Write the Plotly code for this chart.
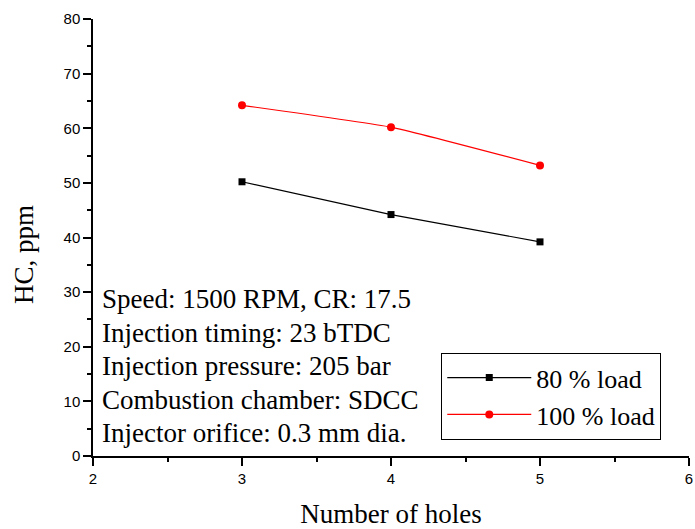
import plotly.graph_objects as go

holes = [3, 4, 5]
hc_80 = [50.2, 44.2, 39.2]
hc_100 = [64.2, 60.2, 53.2]
series_names = ["80 % load", "100 % load"]
note_lines = [
    "Speed: 1500 RPM, CR: 17.5",
    "Injection timing: 23 bTDC",
    "Injection pressure: 205 bar",
    "Combustion chamber: SDCC",
    "Injector orifice: 0.3 mm dia.",
]
x_title = "Number of holes"
y_title = "HC, ppm"

serif = "Liberation Serif, Times New Roman, serif"
sans = "Liberation Sans, Arial, sans-serif"

fig = go.Figure()
fig.add_trace(go.Scatter(
    x=holes, y=hc_80, name=series_names[0], mode="lines+markers",
    line=dict(color="black", width=1.2),
    marker=dict(symbol="square", size=7, color="black"),
))
fig.add_trace(go.Scatter(
    x=holes, y=hc_100, name=series_names[1], mode="lines+markers",
    line=dict(color="red", width=1.2, shape="spline", smoothing=0.35),
    marker=dict(symbol="circle", size=8, color="red"),
))

n = len(note_lines)
for i, line in enumerate(note_lines):
    fig.add_annotation(
        x=0.0, y=0.0, xref="paper", yref="paper", xanchor="left", yanchor="middle",
        xshift=7, yshift=23 + 33.5 * (n - 1 - i), align="left", showarrow=False,
        text=line,
        font=dict(family=serif, size=27, color="black"),
    )

# y-axis title (placed as annotation to match its off-centre position)
fig.add_annotation(
    x=0.0, y=0.46, xref="paper", yref="paper", xanchor="center", yanchor="middle",
    xshift=-69, textangle=-90, showarrow=False, text=y_title,
    font=dict(family=serif, size=27, color="black"),
)

axis_common = dict(
    showline=True, linecolor="black", linewidth=1.5, showgrid=False, zeroline=False,
    ticks="outside", ticklen=8, tickwidth=1.5, tickcolor="black",
    tickfont=dict(family=sans, size=15, color="black"),
    mirror=False, automargin=False,
)
fig.update_xaxes(
    range=[2, 6], dtick=1, tick0=2,
    minor=dict(ticks="outside", dtick=0.5, ticklen=4, tickwidth=1.5, tickcolor="black"),
    title=dict(text=x_title, font=dict(family=serif, size=27, color="black"), standoff=25),
    **axis_common,
)
fig.update_yaxes(
    range=[0, 80], dtick=10, tick0=0,
    minor=dict(ticks="outside", dtick=5, ticklen=4, tickwidth=1.5, tickcolor="black"),
    **axis_common,
)

fig.update_layout(
    width=695, height=529,
    margin=dict(l=93, r=6, t=19, b=73),
    plot_bgcolor="white", paper_bgcolor="white",
    legend=dict(
        x=0.584, y=0.2357, xanchor="left", yanchor="top",
        bordercolor="black", borderwidth=1.2, bgcolor="white",
        font=dict(family=serif, size=26, color="black"),
        itemwidth=84, tracegroupgap=0,
    ),
)

fig.write_html("out.html")
